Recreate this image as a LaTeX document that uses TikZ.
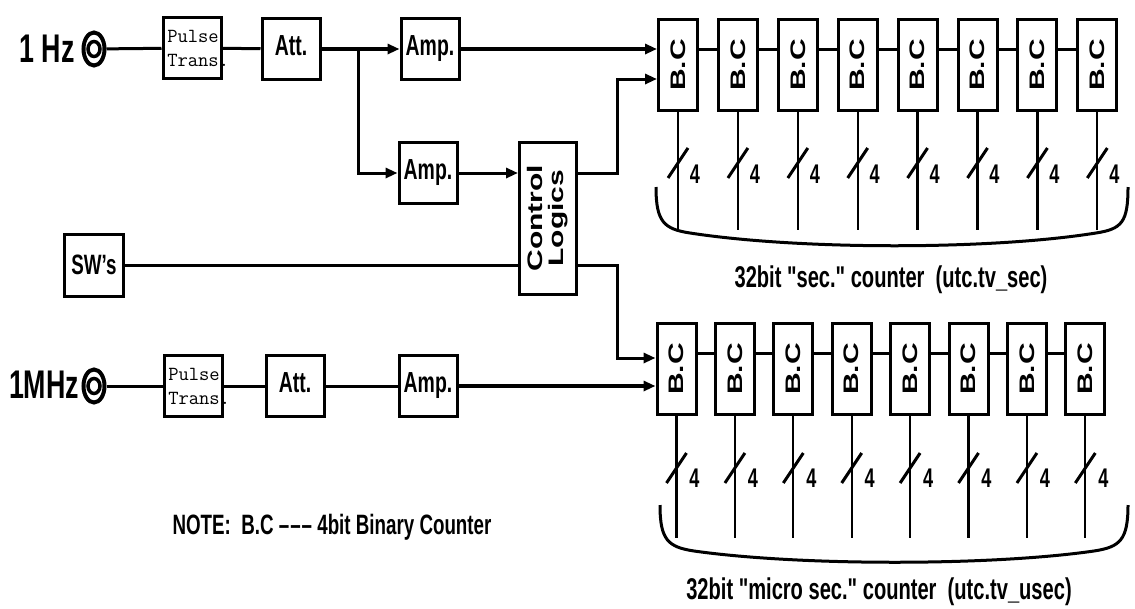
\documentclass[tikz,border=0pt]{standalone}
\usepackage{fontspec}
\newfontfamily\narrowfont{Liberation Sans}[FakeStretch=0.67]
\newfontfamily\upfont{Liberation Sans}
\newfontfamily\pulsefont{Latin Modern Mono}
\usepackage{graphicx}
\usetikzlibrary{arrows.meta,shapes.geometric}

\begin{document}
\begin{tikzpicture}[x=1pt,y=-1pt,>={Triangle[length=12pt,width=10pt]},
 box/.style={draw,line width=3pt,minimum width=58pt,minimum height=61pt,inner sep=0pt,font=\narrowfont\bfseries\fontsize{29}{29}\selectfont},
 pulsebox/.style={box,align=left,font=\pulsefont\fontsize{20}{24}\selectfont},
 bc/.style={draw,line width=3pt,minimum width=39pt,minimum height=91pt,inner sep=0pt,font=\upfont\bfseries\fontsize{30}{30}\selectfont},
 jack/.style={ellipse,draw,line width=4pt,minimum width=21pt,minimum height=33pt,inner sep=0pt},
 wire/.style={line width=3pt},
 bus/.style={line width=2.3pt},
 lbl/.style={font=\narrowfont\bfseries\fontsize{30}{30}\selectfont}]
\useasboundingbox (0,0) rectangle (1135,608);

\node[font=\narrowfont\bfseries\fontsize{40}{40}\selectfont] (hz) at (47,49) {1 Hz};
\node[jack] (j1) at (94,49) {};
\draw[line width=3.5pt] (j1.center) ellipse [x radius=6, y radius=7.5];
\node[pulsebox] (pt1) at (192,48) {\hspace*{2pt}Pulse\\\makebox[50pt][l]{\hspace*{2pt}Trans.}};
\node[box] (att1) at (291,49) {\raisebox{6pt}{Att.}};
\node[box] (amp1) at (430,49) {Amp.};
\node[box] (amp2) at (428,173) {Amp.};
\node[box,minimum width=57pt,minimum height=152pt,font=\upfont\bfseries\fontsize{30}{28}\selectfont] (ctl) at (548,218)
  {\rotatebox{90}{\scalebox{1}[0.7]{\begin{tabular}{@{}c@{}}Control\\Logics\end{tabular}}}};
\node[box,minimum width=59pt,minimum height=62pt,font=\narrowfont\bfseries\fontsize{28}{28}\selectfont] (sw) at (94,265) {SW’s};

\node[font=\narrowfont\bfseries\fontsize{40}{40}\selectfont] (mhz) at (44,385) {1MHz};
\node[jack] (j2) at (94,386) {};
\draw[line width=3.5pt] (j2.center) ellipse [x radius=6, y radius=7.5];
\node[pulsebox] (pt2) at (193,386) {\hspace*{2pt}Pulse\\\makebox[50pt][l]{\hspace*{2pt}Trans.}};
\node[box] (att2) at (295,386) {\raisebox{7pt}{Att.}};
\node[box] (amp3) at (428,386) {Amp.};

\foreach \i in {1,...,8} {
  \node[bc] (s\i) at ({678+59.9*(\i-1)},65) {\rotatebox{90}{\scalebox{1}[0.7]{B.C}}};
  \node[bc] (u\i) at ({676.5+58.4*(\i-1)},369) {\rotatebox{90}{\scalebox{1}[0.7]{B.C}}};
  \draw[bus] (s\i.south) -- ++(0,118);
  \draw[wire] ([shift={(-10,66)}]s\i.south) -- ++(20,-30);
  \node[font=\narrowfont\bfseries\fontsize{27}{27}\selectfont] (sn\i) at ([shift={(17,62)}]s\i.south) {4};
  \draw[bus] (u\i.south) -- ++(0,122);
  \draw[wire] ([shift={(-10,67)}]u\i.south) -- ++(20,-30);
  \node[font=\narrowfont\bfseries\fontsize{27}{27}\selectfont] (un\i) at ([shift={(18,62)}]u\i.south) {4};
}
\foreach \i [evaluate=\i as \j using int(\i+1)] in {1,...,7} {
  \draw[wire] ([yshift=16pt]s\i.east) -- ([yshift=16pt]s\j.west);
  \draw[wire] ([yshift=16pt]u\i.east) -- ([yshift=16pt]u\j.west);
}

\coordinate (br) at (358,49);
\draw[wire] (j1) -- (pt1) -- (att1);
\draw[wire,line width=4pt,->] (att1) -- (amp1);
\draw[wire,->] (br) |- (amp2);
\draw[wire,line width=3.5pt,->] (amp1) -- (s1.west |- amp1);
\draw[wire,->] (amp2) -- (ctl.west |- amp2);
\draw[wire] (sw) -- (ctl.west |- sw);
\draw[wire,->] (ctl.east |- amp2) -- ++(39,0) |- ([yshift=-14pt]s1.west);
\draw[wire,->] (ctl.east |- sw) -- ++(39,0) |- ([yshift=11pt]u1.west);
\draw[wire] (j2) -- (pt2) -- (att2) -- (amp3);
\draw[wire,line width=3.5pt,->] (amp3) -- (u1.west |- amp3);

\draw[wire] (656,187) .. controls (656,222) and (664,229) .. (690,233)
  .. controls (800,250) and (990,250) .. (1096,233) .. controls (1122,229) and (1128,222) .. (1128,187);
\draw[wire] (660,505) .. controls (660,540) and (668,547) .. (694,551)
  .. controls (800,566) and (990,566) .. (1094,551) .. controls (1120,547) and (1128,540) .. (1128,505);
\node[lbl] (seclbl) at (891,280) {32bit "sec." counter\ \ (utc.tv\_sec)};
\node[lbl] (useclbl) at (879,592) {32bit "micro sec." counter\ \ (utc.tv\_usec)};
\node[lbl,font=\narrowfont\bfseries\fontsize{28}{28}\selectfont] (note) at (332,527) {NOTE:\ \ B.C –\kern1pt–\kern1pt– 4bit Binary Counter};
\end{tikzpicture}
\end{document}
